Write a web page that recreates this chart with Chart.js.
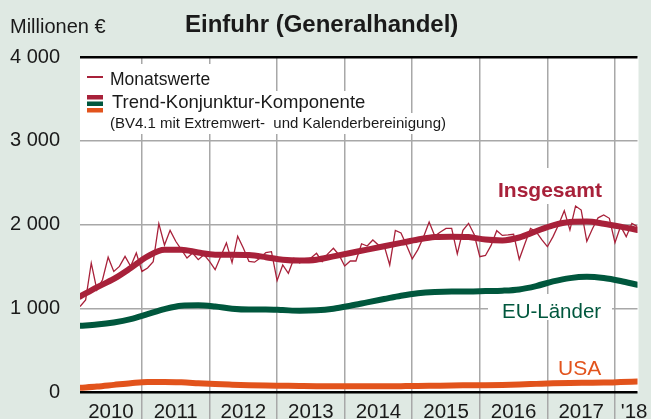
<!DOCTYPE html>
<html>
<head>
<meta charset="utf-8">
<script src="https://cdn.jsdelivr.net/npm/chart.js@4.4.1/dist/chart.umd.min.js"></script>
<style>
  html, body { margin: 0; padding: 0; background: #dfe9e3; }
  #wrap { width: 651px; height: 419px; }
</style>
</head>
<body>
<div id="wrap"><canvas id="importChart" width="651" height="419"></canvas></div>
<script>
//------ Data ------//
// x = month number, 0 = Jan 2010; first value is Feb 2010
const firstMonth = 1;
const yearBreaks = [12, 24, 36, 48, 60, 72, 84, 96];
const yearLabels = ['2010', '2011', '2012', '2013', '2014', '2015', '2016', '2017', "'18"];
const yearLabelPos = [6.5, 18, 30, 42, 54, 66, 78, 90, 99.4];
const yTicks = [0, 1000, 2000, 3000, 4000];

// Monatswerte Insgesamt (Mio. €)
const monthlyTotal = [
  1020, 1100, 1540, 1220, 1340, 1610, 1440, 1500, 1620, 1500, 1660,
  1440, 1480, 1556, 2010, 1755, 1930, 1800, 1700, 1600, 1660, 1580, 1640,
  1560, 1460, 1620, 1780, 1545, 1860, 1720, 1560, 1550, 1600, 1665, 1675,
  1330, 1517, 1417, 1597, 1540, 1580, 1600, 1656, 1556, 1650, 1716, 1636,
  1505, 1564, 1564, 1770, 1743, 1815, 1755, 1750, 1517, 1930, 1900, 1750,
  1590, 1700, 1850, 2030, 1863, 1910, 1953, 1953, 1650, 1930, 2014, 1880,
  1616, 1630, 1750, 1926, 1870, 1875, 1883, 1584, 1770, 1953, 1914, 1820,
  1735, 1855, 2000, 2165, 1934, 2221, 2173, 1800, 1950, 2080, 2113, 2074,
  1783, 1980, 1855, 2014, 1974
];

// Trend-Konjunktur-Komponente, one value every 3 months from Feb 2010
const trendStep = 3;
const trendTotal = [
  1140, 1250, 1350, 1480, 1620, 1700, 1700, 1665, 1640, 1640, 1635, 1610,
  1580, 1570, 1580, 1620, 1660, 1700, 1740, 1780, 1820, 1850, 1855, 1850,
  1820, 1810, 1845, 1920, 1990, 2030, 2035, 2010, 1975, 1935
];
const trendEU = [
  790, 805, 830, 870, 930, 990, 1030, 1035, 1020, 995, 985, 985,
  978, 970, 975, 995, 1030, 1070, 1110, 1150, 1180, 1195, 1200, 1200,
  1205, 1210, 1225, 1265, 1320, 1360, 1375, 1360, 1325, 1280
];
const trendUSA = [
  50, 65, 85, 105, 120, 120, 115, 105, 95, 88, 82, 78,
  75, 72, 70, 70, 70, 68, 68, 70, 72, 75, 78, 80,
  82, 85, 90, 97, 104, 108, 110, 112, 118, 125
];

//------ Styles ------//
const FONT = "'Liberation Sans', Arial, sans-serif";
const bgColor = '#dfe9e3';
const red = '#a8213a';
const green = '#00573d';
const orange = '#e2531c';
const gridGray = '#a8a8a8';
const textColor = '#1a1a1a';

const toPoints = (arr, step) => arr.map((v, i) => ({ x: firstMonth + i * step, y: v }));
const thinSpace = (v) => String(v).replace(/\B(?=(\d{3})+(?!\d))/g, ' ');

//------ Plugins ------//
const backgroundPlugin = {
  id: 'background',
  beforeDraw(chart) {
    const { ctx, chartArea: a } = chart;
    ctx.save();
    ctx.fillStyle = bgColor;
    ctx.fillRect(0, 0, chart.width, chart.height);
    ctx.fillStyle = '#ffffff';
    ctx.fillRect(a.left, a.top, a.right - a.left + 1, a.bottom - a.top);
    ctx.restore();
  }
};

// legend + series labels, each on a white patch that hides the grid
const labelsPlugin = {
  id: 'labels',
  beforeDatasetsDraw(chart) {
    const ctx = chart.ctx;
    ctx.save();
    ctx.fillStyle = '#ffffff';
    ctx.fillRect(82, 64, 140, 27);
    ctx.fillRect(82, 91, 290, 22);
    ctx.fillRect(82, 113, 386, 21);
    ctx.fillRect(490, 168, 122, 36);
    ctx.fillRect(488, 294, 124, 26);

    // legend markers
    ctx.strokeStyle = red;
    ctx.lineWidth = 2;
    ctx.beginPath();
    ctx.moveTo(87, 77);
    ctx.lineTo(103, 77);
    ctx.stroke();
    ctx.fillStyle = red;
    ctx.fillRect(87, 95, 16, 4.5);
    ctx.fillStyle = green;
    ctx.fillRect(87, 101.5, 16, 4.5);
    ctx.fillStyle = orange;
    ctx.fillRect(87, 108, 16, 4.5);

    ctx.textBaseline = 'alphabetic';
    ctx.textAlign = 'left';
    ctx.fillStyle = textColor;
    ctx.font = `17.5px ${FONT}`;
    ctx.fillText('Monatswerte', 110, 85);
    ctx.font = `18.5px ${FONT}`;
    ctx.fillText('Trend-Konjunktur-Komponente', 112, 108);
    ctx.font = `15px ${FONT}`;
    ctx.fillText('(BV4.1 mit Extremwert-  und Kalenderbereinigung)', 110, 128);

    // series names
    ctx.fillStyle = red;
    ctx.font = `bold 21px ${FONT}`;
    ctx.fillText('Insgesamt', 498, 197);
    ctx.fillStyle = green;
    ctx.font = `20.5px ${FONT}`;
    ctx.fillText('EU-Länder', 502, 318);
    ctx.fillStyle = orange;
    ctx.font = `21px ${FONT}`;
    ctx.fillText('USA', 558, 375);
    ctx.restore();
  },
  afterDraw(chart) {
    const ctx = chart.ctx;
    ctx.save();
    ctx.fillStyle = textColor;
    ctx.textBaseline = 'alphabetic';
    ctx.font = `20px ${FONT}`;
    ctx.fillText('Millionen €', 10, 33);
    ctx.font = `bold 24px ${FONT}`;
    ctx.fillText('Einfuhr (Generalhandel)', 185, 32);
    ctx.restore();
  }
};

//------ Chart ------//
const trendLine = (label, data, color) => ({
  label,
  data: toPoints(data, trendStep),
  borderColor: color,
  borderWidth: 6,
  borderCapStyle: 'round',
  borderJoinStyle: 'round',
  cubicInterpolationMode: 'monotone',
  pointRadius: 0,
  fill: false
});

new Chart(document.getElementById('importChart'), {
  type: 'line',
  data: {
    datasets: [
      trendLine('Insgesamt Trend', trendTotal, red),
      trendLine('EU-Länder Trend', trendEU, green),
      trendLine('USA Trend', trendUSA, orange),
      {
        label: 'Monatswerte',
        data: toPoints(monthlyTotal, 1),
        borderColor: red,
        borderWidth: 1.3,
        tension: 0,
        pointRadius: 0,
        fill: false
      }
    ]
  },
  options: {
    responsive: false,
    animation: false,
    events: [],
    layout: { padding: { left: 0, right: 13.5, top: 57, bottom: 0 } },
    plugins: {
      legend: { display: false },
      title: { display: false },
      tooltip: { enabled: false }
    },
    scales: {
      x: {
        type: 'linear',
        position: 'bottom',
        min: 1,
        max: 100,
        afterBuildTicks: (scale) => { scale.ticks = yearBreaks.map(v => ({ value: v })); },
        afterFit: (scale) => {
          scale.height = 0;
          scale.paddingLeft = 0;
          scale.paddingRight = 0;
        },
        grid: { color: gridGray, lineWidth: 1.5, drawTicks: true, tickLength: 30 },
        border: { display: false },
        ticks: { display: false }
      },
      x2: {
        type: 'linear',
        position: 'bottom',
        min: 1,
        max: 100,
        afterBuildTicks: (scale) => { scale.ticks = yearLabelPos.map(v => ({ value: v })); },
        afterFit: (scale) => {
          scale.height = 27;
          scale.paddingLeft = 0;
          scale.paddingRight = 0;
        },
        grid: { display: false, drawTicks: false },
        border: { display: false },
        ticks: {
          autoSkip: false,
          maxRotation: 0,
          padding: 8.5,
          color: textColor,
          font: { family: FONT, size: 20.5 },
          callback: (v) => yearLabels[yearLabelPos.indexOf(v)]
        }
      },
      y: {
        min: 0,
        max: 4000,
        afterBuildTicks: (scale) => { scale.ticks = yTicks.map(v => ({ value: v })); },
        afterFit: (scale) => {
          scale.width = 80;
          scale.paddingTop = 0;
          scale.paddingBottom = 0;
        },
        grid: {
          drawTicks: false,
          color: (c) => (c.tick.value === 0 || c.tick.value === 4000) ? '#000000' : gridGray,
          lineWidth: (c) => (c.tick.value === 0 || c.tick.value === 4000) ? 2.5 : 1.5
        },
        border: { display: false },
        ticks: {
          padding: 20,
          color: textColor,
          font: { family: FONT, size: 20 },
          callback: (v) => thinSpace(v)
        }
      }
    }
  },
  plugins: [backgroundPlugin, labelsPlugin]
});
</script>
</body>
</html>
